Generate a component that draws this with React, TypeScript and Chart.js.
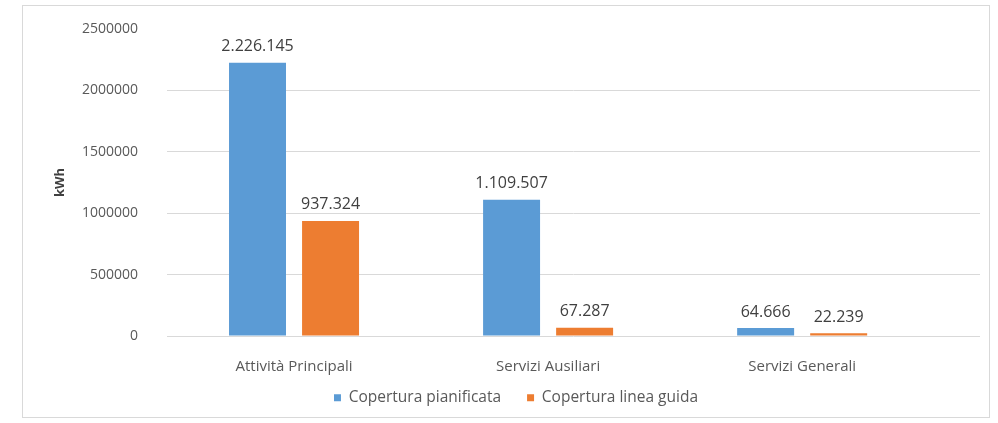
import React, { useEffect, useRef } from "react";
import { Chart, registerables } from "chart.js";

Chart.register(...registerables);

const CATEGORIES = ["Attività Principali", "Servizi Ausiliari", "Servizi Generali"];
const PLANNED = [2226145, 1109507, 64666];
const GUIDELINE = [937324, 67287, 22239];
const SERIES_NAMES = ["Copertura pianificata", "Copertura linea guida"];
const SERIES_COLORS = ["#5B9BD5", "#ED7D31"];
const Y_TICKS = [0, 500000, 1000000, 1500000, 2000000, 2500000];
const Y_TITLE = "kWh";

const FONT = "'Open Sans', 'Liberation Sans', sans-serif";

function fmt(v: number): string {
  return String(v).replace(/\B(?=(\d{3})+(?!\d))/g, ".");
}

const valueLabels = {
  id: "valueLabels",
  afterDatasetsDraw(chart: any) {
    const ctx = chart.ctx;
    ctx.save();
    ctx.font = `16px ${FONT}`;
    ctx.fillStyle = "#404040";
    ctx.textAlign = "center";
    ctx.textBaseline = "middle";
    chart.data.datasets.forEach((ds: any, di: number) => {
      const meta = chart.getDatasetMeta(di);
      meta.data.forEach((el: any, i: number) => {
        const v = ds.data[i].y;
        ctx.fillText(fmt(v), el.x, el.y - 16);
      });
    });
    ctx.restore();
  },
};

const legendShift = {
  id: "legendShift",
  afterLayout(chart: any) {
    const l = chart.legend;
    if (l) {
      l.top -= 13;
      l.height += 13;
    }
  },
};

export default function App() {
  const ref = useRef<HTMLCanvasElement | null>(null);
  useEffect(() => {
    if (!ref.current) return;
    const series = [PLANNED, GUIDELINE];
    const chart = new Chart(ref.current, {
      type: "bar",
      data: {
        datasets: series.map((vals, si) => ({
          label: SERIES_NAMES[si],
          data: vals.map((v, i) => ({ x: i, y: v })),
          backgroundColor: SERIES_COLORS[si],
          borderWidth: 0,
          categoryPercentage: 0.575,
          barPercentage: 0.78,
        })),
      },
      options: {
        animation: false,
        responsive: false,
        devicePixelRatio: 1,
        layout: { padding: { left: 29, right: 9, top: 23, bottom: 0 } },
        plugins: {
          tooltip: { enabled: false },
          legend: {
            position: "bottom",
            maxHeight: 40,
            labels: {
              boxWidth: 7,
              boxHeight: 7,
              padding: 26,
              color: "#595959",
              font: { family: FONT, size: 15.5 },
            },
          },
        },
        scales: {
          x: {
            type: "linear",
            min: -0.5,
            max: 2.7,
            offset: false,
            grid: { display: false, drawTicks: false },
            border: { display: false },
            afterBuildTicks: (s: any) => {
              s.ticks = CATEGORIES.map((_, i) => ({ value: i }));
            },
            afterFit: (s: any) => {
              s.height = 41;
              s.paddingLeft = 0;
              s.paddingRight = 0;
              s.paddingTop = 0;
              s.paddingBottom = 0;
            },
            ticks: {
              autoSkip: false,
              maxRotation: 0,
              padding: 22,
              color: "#595959",
              font: { family: FONT, size: 15 },
              callback: (v: any) => CATEGORIES[v] ?? "",
            },
          },
          y: {
            min: 0,
            max: 2500000,
            afterBuildTicks: (s: any) => {
              s.ticks = Y_TICKS.map((v) => ({ value: v }));
            },
            afterFit: (s: any) => {
              s.width = 115;
              s.paddingTop = 0;
              s.paddingBottom = 0;
              s.paddingLeft = 0;
              s.paddingRight = 0;
            },
            grid: {
              drawTicks: false,
              color: (c: any) => (c.tick && c.tick.value === 2500000 ? "rgba(0,0,0,0)" : "#d9d9d9"),
            },
            border: { display: false },
            title: {
              display: true,
              text: Y_TITLE,
              color: "#404040",
              padding: 0,
              font: { family: FONT, size: 13, weight: "bold" },
            },
            ticks: {
              padding: 29,
              color: "#595959",
              font: { family: FONT, size: 14 },
              callback: (v: any) => String(v),
            },
          },
        },
      },
      plugins: [valueLabels, legendShift],
    } as any);
    return () => chart.destroy();
  }, []);
  return (
    <div
      style={{
        position: "absolute",
        left: 22,
        top: 5,
        width: 966,
        height: 411,
        border: "1px solid #d9d9d9",
        background: "#fff",
      }}
    >
      <canvas ref={ref} width={966} height={411} style={{ display: "block" }} />
    </div>
  );
}
